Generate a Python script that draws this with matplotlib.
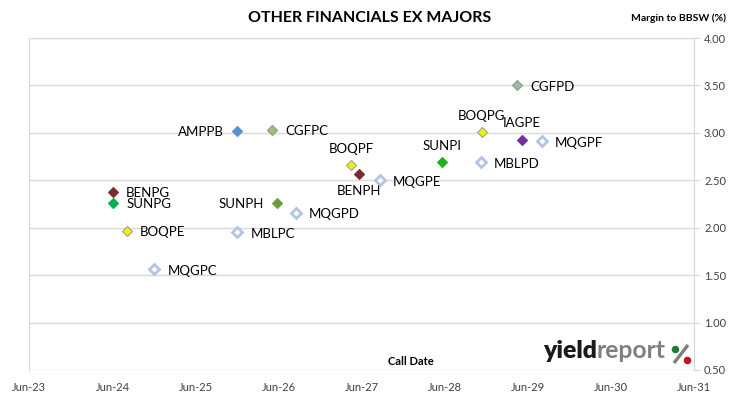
import pandas as pd
import numpy as np
import matplotlib.pyplot as plt
from matplotlib.lines import Line2D

plt.rcParams['font.family'] = ['Lato', 'DejaVu Sans']

# securities, call dates and margins
codes = ['AMPPB', 'CGFPC', 'BOQPF', 'BENPH', 'MQGPE', 'BENPG', 'SUNPG', 'SUNPH',
         'MQGPD', 'BOQPE', 'MBLPC', 'MQGPC', 'CGFPD', 'BOQPG', 'IAGPE', 'MQGPF',
         'SUNPI', 'MBLPD']
call_dates = ['2025-11-28', '2026-05-03', '2027-04-15', '2027-05-18', '2027-08-20',
              '2024-06-01', '2024-06-05', '2026-05-25', '2026-08-16', '2024-08-03',
              '2025-11-30', '2024-12-01', '2029-04-15', '2028-11-10', '2029-05-06',
              '2029-08-01', '2028-05-17', '2028-11-04']
margins = [3.02, 3.03, 2.66, 2.57, 2.50, 2.38, 2.26, 2.26,
           2.16, 1.97, 1.95, 1.56, 3.50, 3.01, 2.93, 2.91,
           2.69, 2.69]
tick_labels = ['Jun-23', 'Jun-24', 'Jun-25', 'Jun-26', 'Jun-27', 'Jun-28',
               'Jun-29', 'Jun-30', 'Jun-31']

# marker colours (face, edge) and label placement
stil = {
    'AMPPB': ('#5B8FD0', '#5B8FD0', 'left'),
    'CGFPC': ('#A4BC84', '#8FA070', 'right'),
    'BOQPF': ('#F2F200', '#A0A0A0', 'above'),
    'BENPH': ('#7A2C2C', '#7A2C2C', 'below'),
    'MQGPE': ('white', '#B4C4E4', 'right'),
    'BENPG': ('#7A2C2C', '#7A2C2C', 'right'),
    'SUNPG': ('#00B050', '#00B050', 'right'),
    'SUNPH': ('#6A9E3A', '#6A9E3A', 'left'),
    'MQGPD': ('white', '#B4C4E4', 'right'),
    'BOQPE': ('#F2F200', '#A0A0A0', 'right'),
    'MBLPC': ('white', '#B4C4E4', 'right'),
    'MQGPC': ('white', '#B4C4E4', 'right'),
    'CGFPD': ('#9FB8A4', '#8AA090', 'right'),
    'BOQPG': ('#F2F200', '#A0A0A0', 'above'),
    'IAGPE': ('#7030A0', '#7030A0', 'above'),
    'MQGPF': ('white', '#B4C4E4', 'right'),
    'SUNPI': ('#1DB31D', '#1DB31D', 'above'),
    'MBLPD': ('white', '#B4C4E4', 'right'),
}

x = pd.to_datetime(call_dates)

fig = plt.figure(figsize=(7.30, 3.99), dpi=100)
ax = fig.add_axes([0.0401, 0.0727, 0.911, 0.832])

for kod, d, m in zip(codes, x, margins):
    fc, ec, poz = stil[kod]
    lw = 2.0 if fc == 'white' else 0.8
    ax.plot([d], [m], marker='D', ms=5, mfc=fc, mec=ec,
            mew=lw, linestyle='none', zorder=3)
    if poz == 'right':
        ax.annotate(kod, (d, m), xytext=(9.5, -1), textcoords='offset points',
                    ha='left', va='center', fontsize=9.5)
    elif poz == 'left':
        ax.annotate(kod, (d, m), xytext=(-9.5, -0.5), textcoords='offset points',
                    ha='right', va='center', fontsize=9.5)
    elif poz == 'above':
        ax.annotate(kod, (d, m), xytext=(0, 8.8), textcoords='offset points',
                    ha='center', va='baseline', fontsize=9.5)
    else:
        ax.annotate(kod, (d, m), xytext=(0, -8.5), textcoords='offset points',
                    ha='center', va='top', fontsize=9.5)

ticks = pd.to_datetime(['%d-06-01' % r for r in range(2023, 2032)])
ax.set_xlim(ticks[0], ticks[-1])
ax.set_xticks(ticks)
ax.set_xticklabels(tick_labels, fontsize=8)
ax.set_ylim(0.5, 4.0)
ax.set_yticks(np.arange(0.5, 4.01, 0.5))
ax.set_yticklabels(['%.2f' % v for v in np.arange(0.5, 4.01, 0.5)], fontsize=8)
ax.yaxis.tick_right()
ax.tick_params(axis='y', length=4, color='#D9D9D9', pad=3, labelcolor='#404040')
ax.tick_params(axis='x', length=0, pad=9, labelcolor='#404040')
ax.grid(axis='y', color='#D9D9D9', lw=1)
for s in ['top', 'bottom']:
    ax.spines[s].set_visible(False)
ax.spines['left'].set_color('#D9D9D9')
ax.spines['right'].set_color('#D9D9D9')

fig.text(0.507, 0.955, 'OTHER FINANCIALS EX MAJORS', ha='center', va='center',
         fontsize=11.5, fontweight='bold')
fig.text(0.995, 0.955, 'Margin to BBSW (%)', ha='right', va='center',
         fontsize=7.5, fontweight='bold')
ax.text(0.574, 0.025, 'Call Date', transform=ax.transAxes, ha='center',
        va='center', fontsize=8, fontweight='bold')

# logo
W, H = 730, 399
t1 = fig.text(543 / W, 1 - 358 / H, 'yield', ha='left', va='baseline',
              fontsize=17.8, fontweight='heavy', color='#1A1A1A')
ax.annotate('report', xy=(1, 0), xycoords=t1, xytext=(0, 0),
            textcoords='offset points', ha='left', va='bottom', fontsize=17.8,
            fontweight='bold', color='#7F7F7F', annotation_clip=False)
fig.add_artist(Line2D([674 / W, 688 / W], [1 - 363 / H, 1 - 345 / H],
                      transform=fig.transFigure, color='#7F7F7F', lw=2.4,
                      solid_capstyle='butt'))
fig.add_artist(Line2D([674.5 / W], [1 - 349 / H], transform=fig.transFigure,
                      marker='o', ms=4.4, color='#1E7B34', mec='#1E7B34'))
fig.add_artist(Line2D([687 / W], [1 - 359.5 / H], transform=fig.transFigure,
                      marker='o', ms=4.4, color='#C0141C', mec='#C0141C'))

fig.savefig('out.png', dpi=100)
